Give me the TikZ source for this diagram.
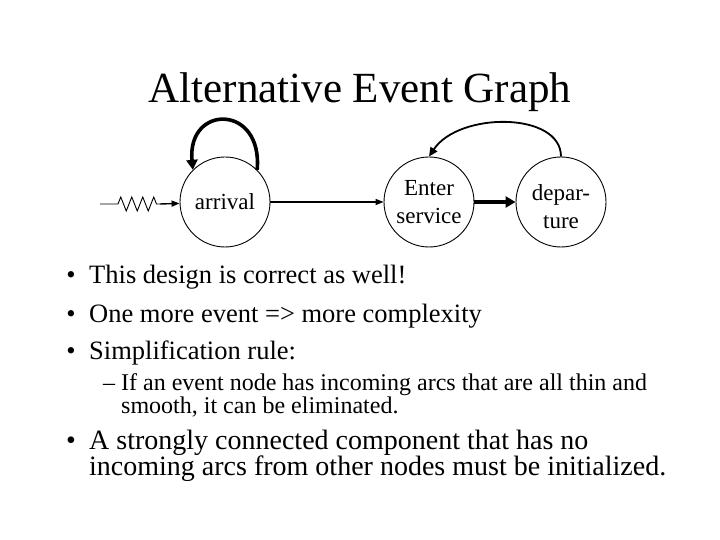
\documentclass[tikz,border=0pt]{standalone}
\usepackage{fontspec}
\setmainfont{Liberation Serif}
\usetikzlibrary{arrows.meta,decorations.pathmorphing}
\tikzset{
  base/.style={font=\fontsize{23bp}{28bp}\selectfont,align=center,inner sep=0pt},
  evnode/.style={base,circle,draw,line width=0.9bp,minimum size=90bp},
  headline/.style={font=\fontsize{43bp}{50bp}\selectfont,inner sep=0pt,anchor=base},
  item/.style={font=\fontsize{26.5bp}{30bp}\selectfont,inner sep=0pt,anchor=base west},
  bigitem/.style={item,font=\fontsize{28bp}{30bp}\selectfont},
  subitem/.style={item,font=\fontsize{24bp}{26bp}\selectfont},
  dot/.style={item,anchor=base},
  flow/.style={-{Triangle[length=8bp,width=6bp]},line width=1.4bp},
  heavy/.style={-{Triangle[length=10bp,width=11bp]},line width=4bp},
  loopflow/.style={-{Triangle[length=9bp,width=8bp]},line width=1.8bp},
  loopheavy/.style={-{Triangle[length=10bp,width=11bp]},line width=3.6bp},
  zz/.style={decorate,decoration={zigzag,segment length=11bp,amplitude=7bp,pre length=18bp,post length=2bp},line width=0.9bp}
}
\begin{document}
\begin{tikzpicture}[x=1bp,y=1bp]
\useasboundingbox[fill=white] (0,0) rectangle (720,540);

\node[headline] (title) at (360,437) {Alternative Event Graph};

% event graph
\node[evnode] (arrival) at (225,338) {arrival};
\node[evnode] (enter) at (429,338) {Enter\\service};
\node[evnode,label={[base,name=deplabel,yshift=-5bp]center:depar-\\ture}] (departure) at (561,338) {};

\coordinate (src) at (100,336);
\coordinate (zzend) at (160,336);
\draw[zz] (src) -- (zzend);
\draw[flow] (zzend) -- (arrival);
\draw[flow] (arrival) -- (enter);
\draw[heavy] (enter) -- (departure);
\draw[loopheavy] (arrival.45) .. controls +(6,66) and +(-6,66) .. (arrival.135);
\draw[loopflow] (departure.north) .. controls +(0,45) and +(30,45) .. (enter.north);

% bullets
\node[dot] (d1) at (71,256) {•};
\node[item] (l1) at (89,256) {This design is correct as well!};
\node[dot] (d2) at (71,217) {•};
\node[item] (l2) at (89,217) {One more event => more complexity};
\node[dot] (d3) at (71,180) {•};
\node[item] (l3) at (89,180) {Simplification rule:};

\node[subitem,anchor=base] (s0) at (109,149) {–};
\node[subitem] (s1) at (121,149) {If an event node has incoming arcs that are all thin and};
\node[subitem] (s2) at (121,126) {smooth, it can be eliminated.};

\node[dot,font=\fontsize{28bp}{30bp}\selectfont] (d4) at (71,90) {•};
\node[bigitem] (l4) at (89,90) {A strongly connected component that has no};
\node[bigitem] (l5) at (89,64) {incoming arcs from other nodes must be initialized.};
\end{tikzpicture}
\end{document}
